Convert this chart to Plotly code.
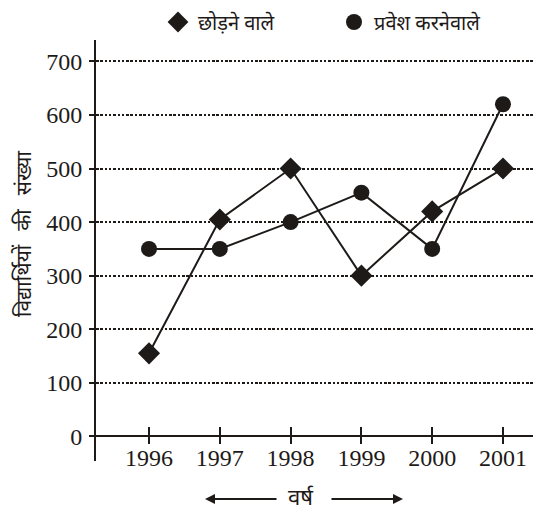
import plotly.graph_objects as go

years = [1996, 1997, 1998, 1999, 2000, 2001]
year_labels = ["1996", "1997", "1998", "1999", "2000", "2001"]
leaving = [155, 405, 500, 300, 420, 500]
joining = [350, 350, 400, 455, 350, 620]
y_ticks = [0, 100, 200, 300, 400, 500, 600, 700]
name_leaving = "छोड़ने वाले"
name_joining = "प्रवेश करनेवाले"
y_title = "विद्यार्थियों\u2002\u2009की\u2002\u2009संख्या"
x_title = "वर्ष"

INK = "#1e1a18"
SERIF = "Liberation Serif, Times New Roman, serif"
HINDI = "Noto Sans, Noto Sans CJK SC, sans-serif"

# the page body has an 8px default margin; size the figure so it fits the window
W, H = 533, 506
L, R, T, B = 88, 0, 32, 53
PW, PH = W - L - R, H - T - B


def px_x(x):  # window pixel -> paper x
    return (x - 8 - L) / PW


def px_y(y):  # window pixel -> paper y
    return (H - B - (y - 8)) / PH


fig = go.Figure()
fig.add_trace(go.Scatter(
    x=years, y=leaving, mode="lines+markers", name=name_leaving,
    line=dict(color=INK, width=2),
    marker=dict(symbol="diamond", size=17, color=INK),
    showlegend=False,
))
fig.add_trace(go.Scatter(
    x=years, y=joining, mode="lines+markers", name=name_joining,
    line=dict(color=INK, width=2),
    marker=dict(symbol="circle", size=16, color=INK),
    showlegend=False,
))
# legend-only entries (markers without line segments)
fig.add_trace(go.Scatter(x=[None], y=[None], mode="markers", name=name_leaving,
                         marker=dict(symbol="diamond", size=16, color=INK)))
fig.add_trace(go.Scatter(x=[None], y=[None], mode="markers", name=name_joining,
                         marker=dict(symbol="circle", size=16, color=INK)))
# invisible trace on the axis that carries the downward tick halves
fig.add_trace(go.Scatter(x=years, y=[0] * len(years), xaxis="x2",
                         mode="markers", marker=dict(opacity=0),
                         showlegend=False, hoverinfo="skip"))

ymin, ymax = -46, 740
xpos = (0 - ymin) / (ymax - ymin)
xrange_ = [1995.251, 2001.537]

fig.update_layout(
    width=W, height=H,
    margin=dict(l=L, r=R, t=T, b=B, autoexpand=False),
    paper_bgcolor="white", plot_bgcolor="white",
    showlegend=True,
    legend=dict(
        orientation="h", x=px_x(158), xanchor="left",
        y=px_y(22), yanchor="middle",
        font=dict(family=HINDI, size=20, color=INK),
        entrywidth=131, entrywidthmode="pixels",
        itemclick=False, itemdoubleclick=False,
        bgcolor="rgba(0,0,0,0)",
    ),
    xaxis=dict(
        range=xrange_,
        tickvals=years, ticktext=year_labels,
        showgrid=False, zeroline=False,
        showline=True, linecolor=INK, linewidth=2,
        ticks="inside", ticklen=8, tickwidth=2, tickcolor=INK,
        anchor="free", position=xpos,
        tickfont=dict(family=SERIF, size=24, color=INK),
        ticklabelstandoff=0,
    ),
    xaxis2=dict(
        overlaying="x", range=xrange_,
        tickvals=years, showticklabels=False,
        showgrid=False, zeroline=False, showline=False,
        ticks="outside", ticklen=7, tickwidth=2, tickcolor=INK,
        anchor="free", position=xpos, side="bottom",
    ),
    yaxis=dict(
        range=[ymin, ymax],
        tickvals=y_ticks, ticktext=[str(v) for v in y_ticks],
        showgrid=True, gridcolor=INK, gridwidth=2, griddash="2.5px,1.8px",
        zeroline=False,
        showline=True, linecolor=INK, linewidth=2,
        ticks="outside", ticklen=5, tickwidth=2, tickcolor=INK,
        tickfont=dict(family=SERIF, size=24, color=INK),
        ticklabelstandoff=2,
    ),
    annotations=[
        dict(text=y_title, textangle=-90, xref="paper", yref="paper",
             x=px_x(23), y=px_y(234),
             showarrow=False, font=dict(family=HINDI, size=21, color=INK),
             xanchor="center", yanchor="middle"),
        dict(text=x_title, xref="paper", yref="paper",
             x=px_x(301), y=px_y(496),
             showarrow=False, font=dict(family=HINDI, size=22, color=INK),
             xanchor="center", yanchor="middle"),
        dict(text="", xref="paper", yref="paper",
             x=px_x(205), y=px_y(499),
             ax=73, ay=0, axref="pixel", ayref="pixel",
             showarrow=True, arrowhead=2, arrowsize=1, arrowwidth=2, arrowcolor=INK),
        dict(text="", xref="paper", yref="paper",
             x=px_x(403), y=px_y(499),
             ax=-73, ay=0, axref="pixel", ayref="pixel",
             showarrow=True, arrowhead=2, arrowsize=1, arrowwidth=2, arrowcolor=INK),
    ],
)

fig.write_html("out.html")
